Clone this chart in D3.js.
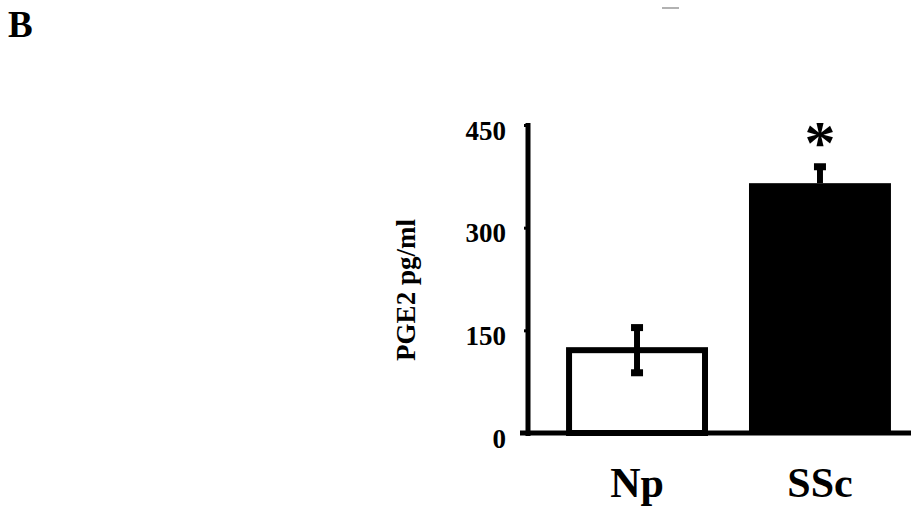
<!DOCTYPE html>
<html lang="en">
<head>
    <meta charset="UTF-8">
    <title>PGE2</title>
    <script src="https://cdn.jsdelivr.net/npm/d3@7"></script>
    <style>
        body { margin: 0; background: #fff; }
        text { font-family: "Liberation Serif", "Times New Roman", serif; font-weight: bold; fill: #000; }
    </style>
</head>
<body>
<div id="container"></div>
<script>
    // data
    const groups = ["Np", "SSc"];
    const means = [121, 365];
    const errors = [33, 24];
    const yTicks = [0, 150, 300, 450];
    const stars = ["", "*"];

    const width = 911, height = 508;

    const svg = d3.select("#container").append("svg")
        .attr("width", width)
        .attr("height", height);

    const y = d3.scaleLinear().domain([0, 450]).range([433, 125]);
    const x = d3.scaleBand().domain(groups).range([528, 929])
        .paddingInner(0.224).paddingOuter(0.208);

    // panel letter
    svg.append("text").attr("x", 8).attr("y", 37)
        .style("font-size", "37px").text("B");

    // small grey mark at top of the scan
    svg.append("line").attr("x1", 662).attr("x2", 679).attr("y1", 8).attr("y2", 8)
        .attr("stroke", "#999").attr("stroke-width", 1.5);

    // y axis
    const yAxis = svg.append("g")
        .attr("transform", "translate(528,0)")
        .call(d3.axisLeft(y).tickValues(yTicks).tickSize(4).tickPadding(18));
    yAxis.select(".domain").attr("stroke", "#000").attr("stroke-width", 5)
        .attr("d", `M0,${y(0) + 3}V${y(450) - 2}`);
    yAxis.selectAll(".tick line").attr("stroke-width", 3);
    yAxis.selectAll(".tick text")
        .style("font-size", "27px")
        .attr("fill", "#000")
        .attr("dy", "0.52em");

    // baseline
    svg.append("line")
        .attr("x1", 520).attr("x2", width)
        .attr("y1", y(0)).attr("y2", y(0))
        .attr("stroke", "#000").attr("stroke-width", 5);

    // y label
    svg.append("text")
        .attr("transform", `translate(415,290) rotate(-90)`)
        .attr("text-anchor", "middle")
        .style("font-size", "27px")
        .text("PGE2 pg/ml");

    // bars
    const sw = 6;
    svg.selectAll("rect.bar")
        .data(groups)
        .join("rect")
        .attr("class", "bar")
        .attr("x", (d, i) => x(d) + (i === 0 ? sw / 2 : 0))
        .attr("width", (d, i) => x.bandwidth() - (i === 0 ? sw : 0))
        .attr("y", (d, i) => y(means[i]))
        .attr("height", (d, i) => y(0) - y(means[i]))
        .attr("fill", (d, i) => i === 0 ? "#fff" : "#000")
        .attr("stroke", "#000")
        .attr("stroke-width", (d, i) => i === 0 ? sw : 0);

    // error bars
    const eb = svg.selectAll("g.err")
        .data(groups)
        .join("g")
        .attr("class", "err")
        .attr("transform", d => `translate(${x(d) + x.bandwidth() / 2},0)`);

    eb.append("line")
        .attr("y1", (d, i) => y(means[i] + errors[i]))
        .attr("y2", (d, i) => i === 0 ? y(means[i] - errors[i]) : y(means[i]))
        .attr("stroke", "#000").attr("stroke-width", 6);

    eb.append("rect")
        .attr("x", -6).attr("width", 12).attr("height", 7)
        .attr("y", (d, i) => y(means[i] + errors[i]) - 3.5);

    eb.filter((d, i) => i === 0).append("rect")
        .attr("x", -6).attr("width", 12).attr("height", 7)
        .attr("y", (d, i) => y(means[0] - errors[0]) - 3.5);

    // significance marks
    svg.selectAll("text.star")
        .data(groups)
        .join("text")
        .attr("class", "star")
        .attr("x", d => x(d) + x.bandwidth() / 2)
        .attr("y", (d, i) => y(means[i] + errors[i]) - 4)
        .attr("text-anchor", "middle")
        .style("font-size", "62px")
        .text((d, i) => stars[i]);

    // category labels
    svg.selectAll("text.cat")
        .data(groups)
        .join("text")
        .attr("class", "cat")
        .attr("x", d => x(d) + x.bandwidth() / 2)
        .attr("y", 497)
        .attr("text-anchor", "middle")
        .style("font-size", "42px")
        .text(d => d);
</script>
</body>
</html>
